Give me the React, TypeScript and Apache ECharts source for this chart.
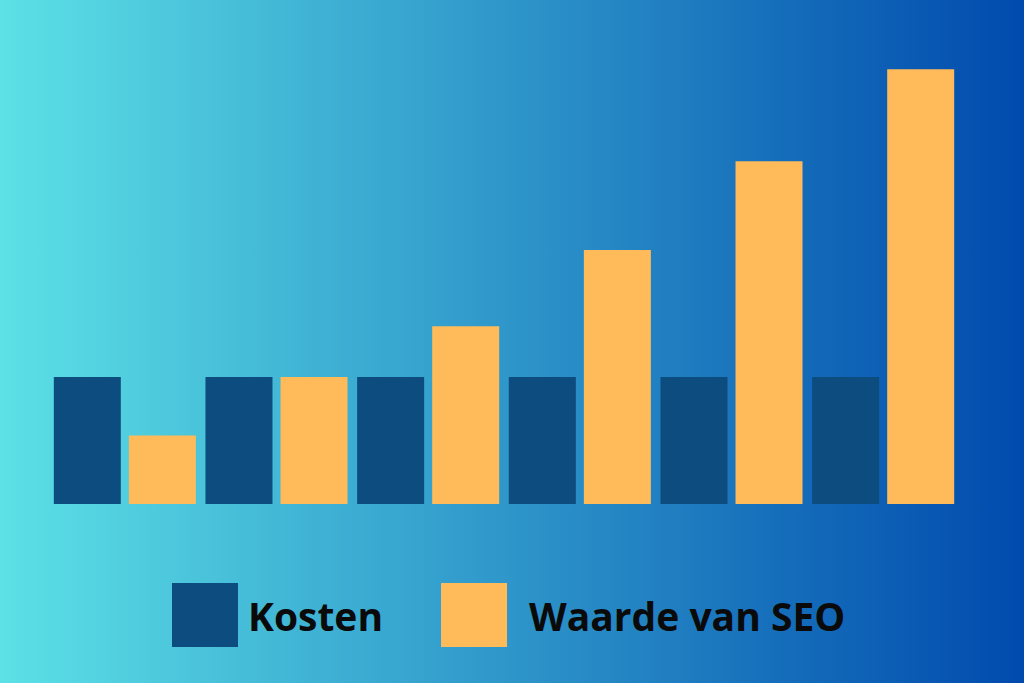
import { useEffect, useRef } from 'react';
import * as echarts from 'echarts';

// data
const categories = ['1', '2', '3', '4', '5', '6'];
const kosten = [25, 25, 25, 25, 25, 25];
const waardeSeo = [13.5, 25, 35, 50, 67.5, 85.6];

export default function App() {
  const chartRef = useRef<HTMLDivElement>(null);

  useEffect(() => {
    if (!chartRef.current) return;
    const chart = echarts.init(chartRef.current, undefined, { renderer: 'svg' });

    chart.setOption({
      animation: false,
      backgroundColor: new echarts.graphic.LinearGradient(0, 0, 1, 0, [
        { offset: 0, color: '#5ce1e6' },
        { offset: 1, color: '#004aad' },
      ]),
      grid: { left: 49, right: 65, top: 47, bottom: 179 },
      legend: {
        left: 167,
        top: 578,
        itemWidth: 66,
        itemHeight: 64,
        itemGap: 58,
        icon: 'rect',
        textStyle: {
          fontFamily: 'Open Sans',
          fontWeight: 'bold',
          fontSize: 39,
          color: '#0a0a0a',
          padding: [0, 0, 0, 5],
        },
        data: [
          { name: 'Kosten' },
          { name: 'Waarde van SEO', textStyle: { padding: [0, 0, 0, 17] } },
        ],
      },
      xAxis: {
        type: 'category',
        data: categories,
        show: false,
      },
      yAxis: {
        type: 'value',
        min: 0,
        max: 90,
        show: false,
      },
      series: [
        {
          name: 'Kosten',
          type: 'bar',
          data: kosten,
          barWidth: 67,
          barGap: '12%',
          itemStyle: { color: '#0d4c7f' },
        },
        {
          name: 'Waarde van SEO',
          type: 'bar',
          data: waardeSeo,
          barWidth: 67,
          itemStyle: { color: '#ffbb59' },
        },
      ],
    });

    return () => {
      chart.dispose();
    };
  }, []);

  return (
    <div
      ref={chartRef}
      style={{ position: 'fixed', left: 0, top: 0, width: 1024, height: 683 }}
    />
  );
}
